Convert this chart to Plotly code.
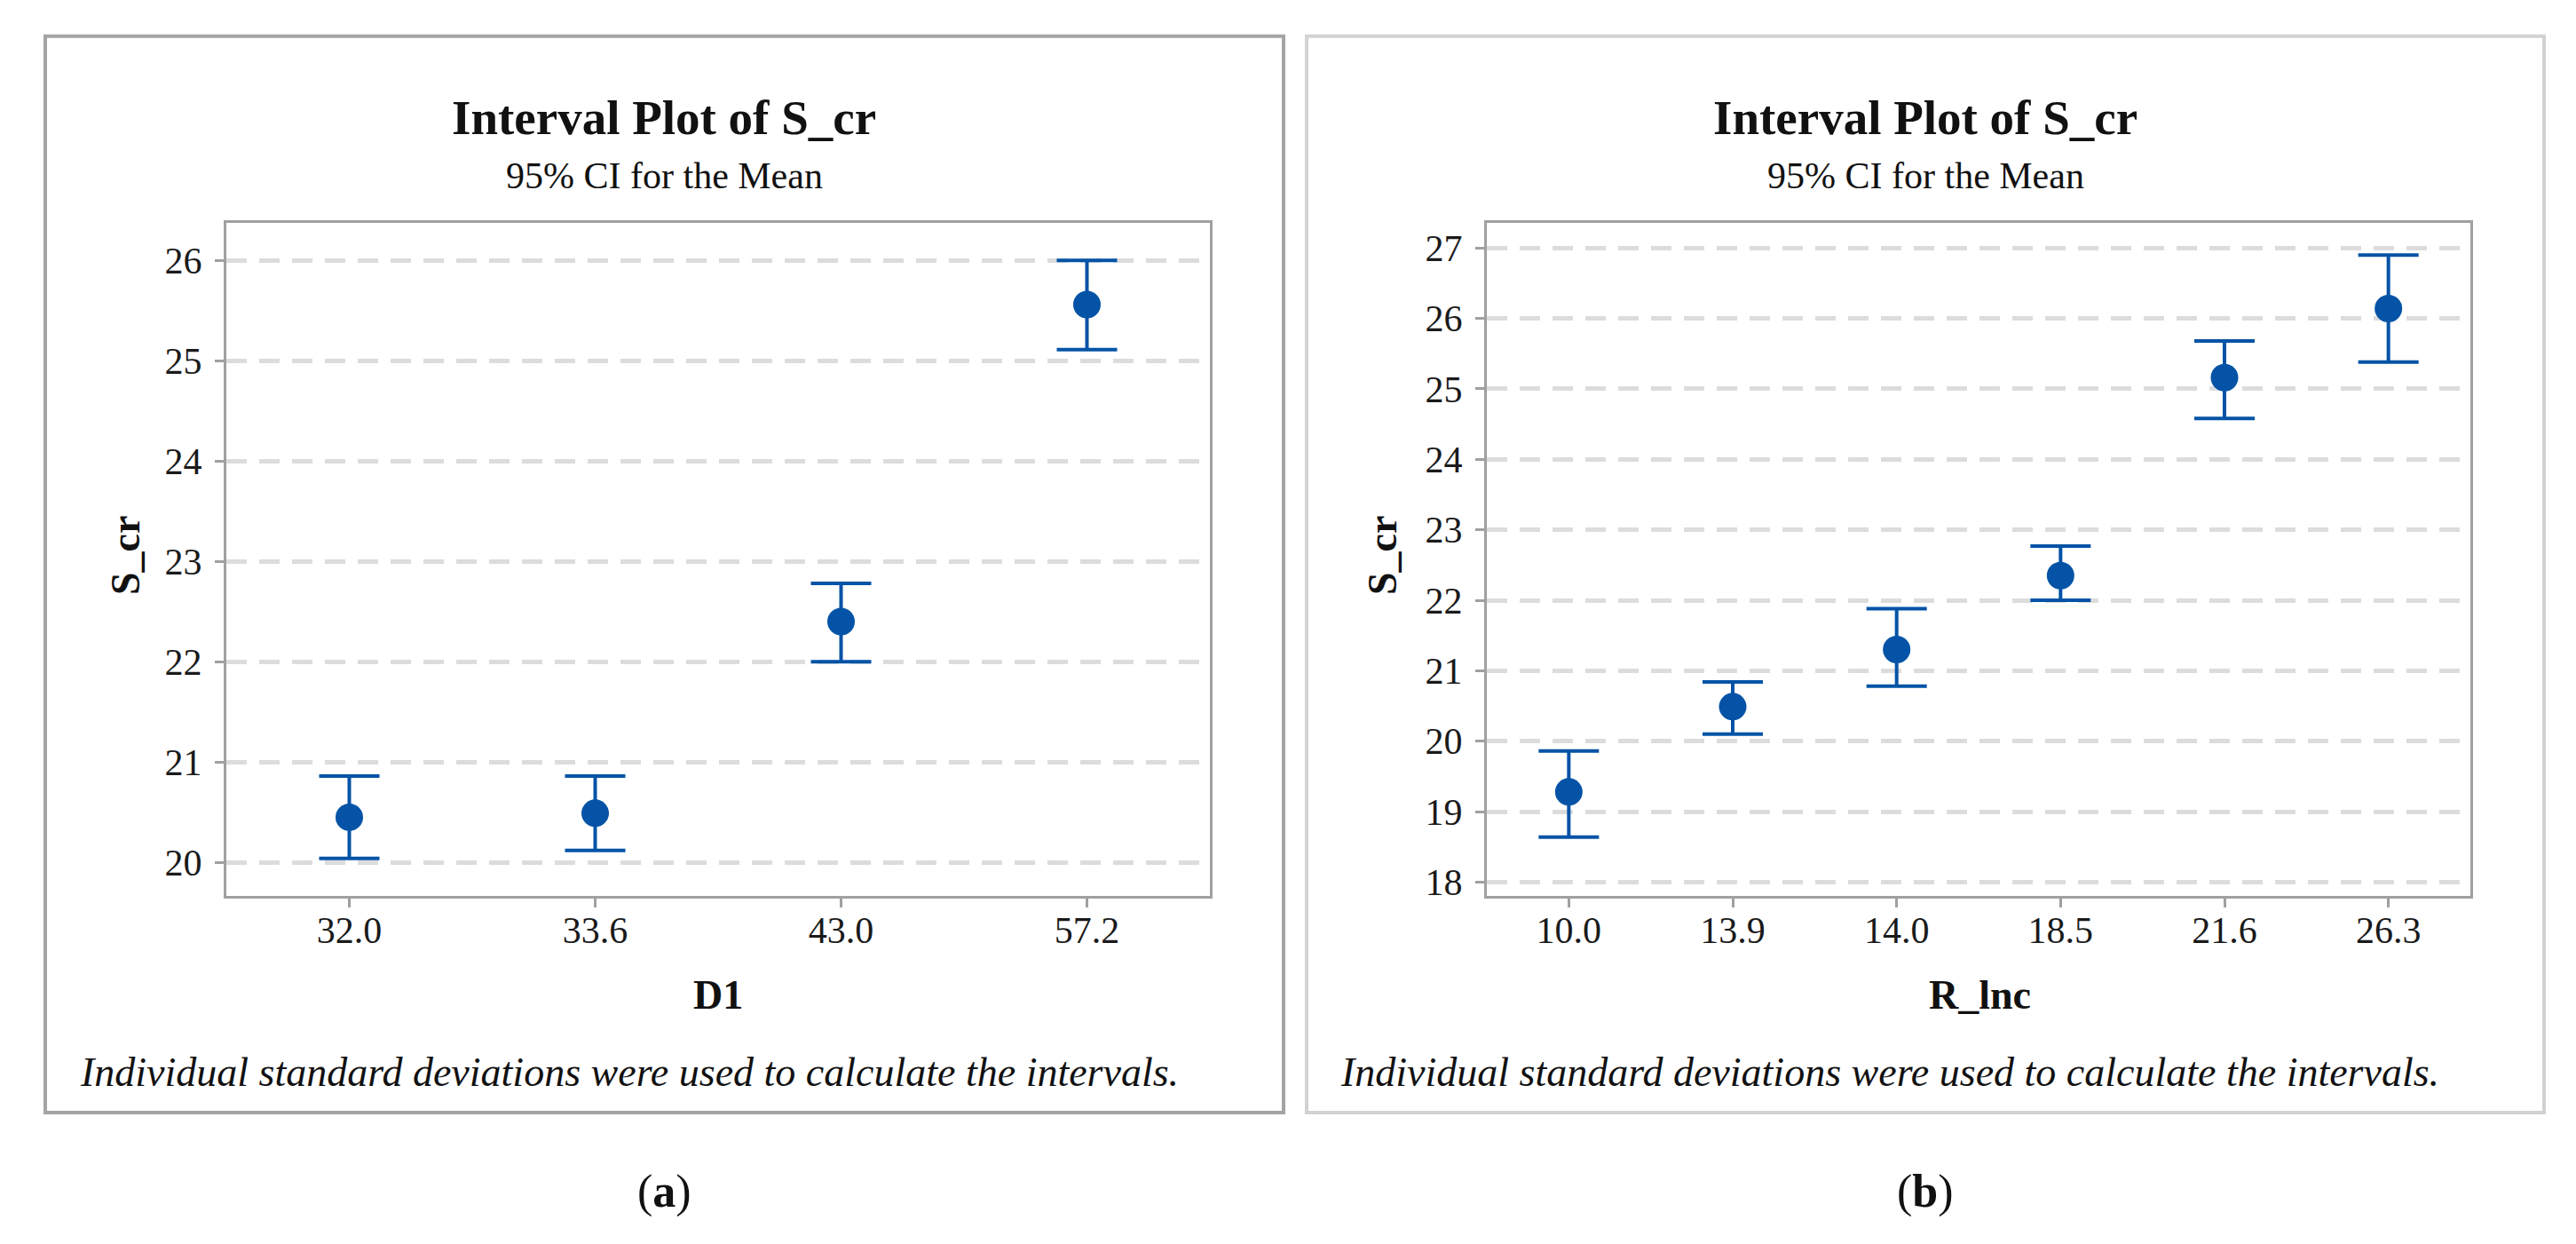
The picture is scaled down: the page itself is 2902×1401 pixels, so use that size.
import plotly.graph_objects as go

# ---------------- data ----------------
d1_labels = ["32.0", "33.6", "43.0", "57.2"]
d1_mean = [20.45, 20.49, 22.40, 25.56]
d1_lower = [20.04, 20.12, 22.00, 25.11]
d1_upper = [20.86, 20.86, 22.78, 26.00]

rinc_labels = ["10.0", "13.9", "14.0", "18.5", "21.6", "26.3"]
rinc_mean = [19.28, 20.49, 21.30, 22.35, 25.16, 26.14]
rinc_lower = [18.64, 20.10, 20.78, 22.00, 24.58, 25.38]
rinc_upper = [19.86, 20.84, 21.88, 22.77, 25.68, 26.90]

title_text = "Interval Plot of S_cr"
subtitle_text = "95% CI for the Mean"
footnote_text = "Individual standard deviations were used to calculate the intervals."

# ---------------- styling ----------------
W, H = 2902, 1401
BLUE = "#0453a6"
FONT = "Liberation Serif"
AXGRAY = "#a0a0a0"


def px(x):
    return x / W


def py(y):
    return 1 - y / H


fig = go.Figure()


def add_series(labels, mean, lower, upper, xa, ya):
    plus = [u - m for u, m in zip(upper, mean)]
    minus = [m - l for m, l in zip(mean, lower)]
    fig.add_trace(go.Scatter(
        x=labels, y=mean, mode="markers",
        marker=dict(size=31, color=BLUE, line=dict(width=0)),
        error_y=dict(type="data", symmetric=False, array=plus, arrayminus=minus,
                     color=BLUE, thickness=4, width=34),
        xaxis=xa, yaxis=ya, showlegend=False, cliponaxis=False,
    ))


add_series(d1_labels, d1_mean, d1_lower, d1_upper, "x", "y")
add_series(rinc_labels, rinc_mean, rinc_lower, rinc_upper, "x2", "y2")

common_x = dict(type="category", showline=True, linecolor=AXGRAY, linewidth=3, mirror=True,
                ticks="outside", ticklen=10, tickwidth=3, tickcolor=AXGRAY,
                showgrid=False, zeroline=False,
                tickfont=dict(family=FONT, size=42, color="#1a1a1a"),
                ticklabelstandoff=-10)
common_y = dict(showline=True, linecolor=AXGRAY, linewidth=3, mirror=True,
                ticks="outside", ticklen=10, tickwidth=3, tickcolor=AXGRAY,
                showgrid=True, gridcolor="#dcdcdc", gridwidth=4.5, griddash="23px,14px",
                zeroline=False, dtick=1,
                tickfont=dict(family=FONT, size=42, color="#1a1a1a"),
                ticklabelstandoff=6)

y_dom = [py(1007), py(245)]
fig.update_layout(
    width=W, height=H,
    margin=dict(l=0, r=0, t=0, b=0),
    paper_bgcolor="white", plot_bgcolor="white",
    showlegend=False,
    xaxis=dict(common_x, domain=[px(247), px(1355)], range=[-0.5, 3.5], anchor="y"),
    yaxis=dict(common_y, domain=y_dom, range=[19.67, 26.37], anchor="x"),
    xaxis2=dict(common_x, domain=[px(1667), px(2775)], range=[-0.5, 5.5], anchor="y2"),
    yaxis2=dict(common_y, domain=y_dom, range=[17.81, 27.35], anchor="x2"),
)

# outer panel frames
fig.add_shape(type="rect", xref="paper", yref="paper",
              x0=px(43), x1=px(1438), y0=py(1253), y1=py(33),
              line=dict(color="#a4a4a4", width=4), layer="below")
fig.add_shape(type="rect", xref="paper", yref="paper",
              x0=px(1464), x1=px(2858), y0=py(1253), y1=py(33),
              line=dict(color="#d2d2d2", width=4), layer="below")

panels = [
    dict(cx=740, left=80, ytitle_x=133, xtitle="D1", tag="(<b>a</b>)"),
    dict(cx=2161, left=1500, ytitle_x=1549, xtitle="R_lnc", tag="(<b>b</b>)"),
]
for p in panels:
    fig.add_annotation(x=px(p["cx"]), y=py(125), xref="paper", yref="paper",
                       text="<b>" + title_text + "</b>", showarrow=False,
                       xanchor="center", yanchor="middle",
                       font=dict(family=FONT, size=55, color="#111111"))
    fig.add_annotation(x=px(p["cx"]), y=py(191), xref="paper", yref="paper",
                       text=subtitle_text, showarrow=False,
                       xanchor="center", yanchor="middle",
                       font=dict(family=FONT, size=42, color="#111111"))
    fig.add_annotation(x=px(p["ytitle_x"]), y=py(622), xref="paper", yref="paper",
                       text="<b>S_cr</b>", showarrow=False, textangle=-90,
                       xanchor="center", yanchor="middle",
                       font=dict(family=FONT, size=46, color="#111111"))
    fig.add_annotation(x=px((p["cx"] - 740) + 801), y=py(1120), xref="paper", yref="paper",
                       text="<b>" + p["xtitle"] + "</b>", showarrow=False,
                       xanchor="center", yanchor="middle",
                       font=dict(family=FONT, size=46, color="#111111"))
    fig.add_annotation(x=px(p["left"]), y=py(1207), xref="paper", yref="paper",
                       text="<i>" + footnote_text + "</i>", showarrow=False,
                       xanchor="left", yanchor="middle",
                       font=dict(family=FONT, size=46, color="#111111"))
    fig.add_annotation(x=px(p["cx"]), y=py(1343), xref="paper", yref="paper",
                       text=p["tag"], showarrow=False,
                       xanchor="center", yanchor="middle",
                       font=dict(family=FONT, size=52, color="#111111"))

fig.write_html("out.html")
